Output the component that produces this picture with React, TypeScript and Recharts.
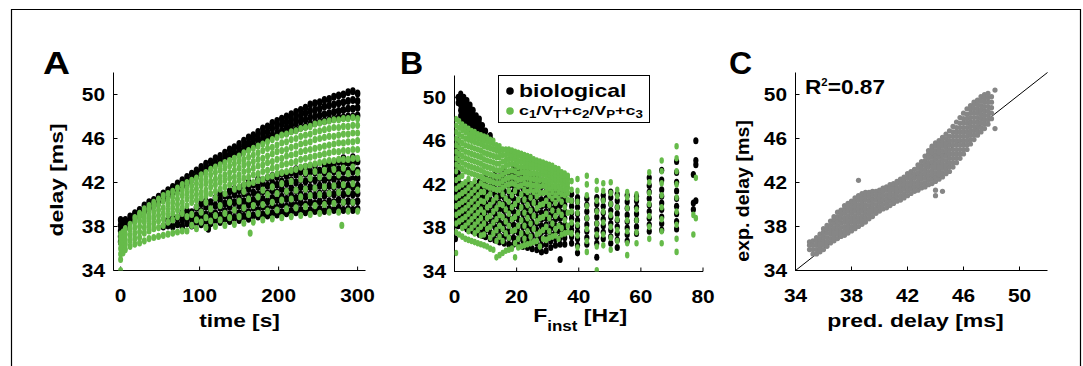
import React from "react";
import { ScatterChart, Scatter, XAxis, YAxis, ReferenceLine } from "recharts";

const FONT = '"Liberation Sans", Arial, Helvetica, sans-serif';
const GREEN = "#66bb4a";
const GRAY = "#868686";
const AXIS = { stroke: "#000", strokeWidth: 1 };

const DELAY_TICKS = [34, 38, 42, 46, 50];
const TIME_TICKS = [0, 100, 200, 300];
const FREQ_TICKS = [0, 20, 40, 60, 80];
const PRED_TICKS = [34, 38, 42, 46, 50];

// A: rows are [time s, ...delays ms]
const A_BIO = [
  [0, 36.6, 37.1, 37.6, 38.1, 38.6], [3, 37.0, 37.5, 38.0, 38.4], [6, 37.9, 38.3, 38.6],
  [12, 38.5, 38.9], [18, 38.8, 39.2], [24, 39.1, 39.5], [30, 39.4, 39.9], [36, 39.7, 40.2],
  [42, 39.9, 40.4], [48, 40.2, 40.7], [54, 38.0, 40.5, 41.0], [60, 38.1, 38.6, 40.8, 41.3],
  [66, 38.0, 38.7, 41.1, 41.6], [72, 38.2, 38.8, 41.4, 41.9], [78, 38.0, 38.6, 39.2, 41.7, 42.2],
  [84, 38.3, 38.9, 39.4, 42.0, 42.5], [90, 38.1, 38.7, 39.3, 42.3, 42.8], [96, 38.4, 39.0, 39.7, 42.6, 43.1],
  [102, 38.2, 38.8, 39.4, 40.1, 42.9, 43.4], [108, 38.5, 39.1, 39.8, 40.3, 43.2, 43.7],
  [111, 37.8], [114, 38.3, 38.9, 39.5, 40.2, 43.4, 43.9], [120, 38.6, 39.2, 39.9, 40.6, 43.7, 44.2],
  [126, 38.4, 39.0, 39.7, 40.4, 41.0, 43.9, 44.4], [132, 38.7, 39.4, 40.1, 40.8, 44.2, 44.7],
  [138, 38.5, 39.1, 39.8, 40.5, 41.2, 44.5, 45.0], [144, 38.8, 39.5, 40.2, 40.9, 41.4, 44.7, 45.2],
  [150, 38.6, 39.2, 39.9, 40.6, 41.3, 44.6, 45.0, 45.5], [156, 38.9, 39.6, 40.3, 41.0, 41.7, 44.9, 45.3, 45.8],
  [162, 38.7, 39.3, 40.0, 40.7, 41.4, 42.0, 45.2, 45.6, 46.1], [168, 39.0, 39.7, 40.4, 41.1, 41.8, 45.4, 45.9, 46.3],
  [174, 38.9, 39.5, 40.2, 40.9, 41.6, 42.3, 45.7, 46.1, 46.6], [180, 39.1, 39.8, 40.5, 41.2, 41.9, 45.9, 46.4, 46.9],
  [186, 39.0, 39.6, 40.3, 41.0, 41.7, 42.4, 46.1, 46.6, 47.1], [192, 39.2, 39.9, 40.6, 41.3, 42.0, 42.6, 46.3, 46.9, 47.4],
  [198, 39.1, 39.7, 40.4, 41.1, 41.8, 42.5, 46.5, 47.1, 47.6], [204, 39.3, 40.0, 40.7, 41.4, 42.1, 42.8, 46.7, 47.3, 47.8],
  [210, 39.2, 39.8, 40.5, 41.2, 41.9, 42.6, 46.5, 47.0, 47.5, 48.0], [216, 39.4, 40.1, 40.8, 41.5, 42.2, 42.9, 46.7, 47.2, 47.7, 48.2],
  [222, 39.3, 39.9, 40.6, 41.3, 42.0, 42.7, 43.2, 46.8, 47.4, 47.9, 48.4], [228, 39.5, 40.2, 40.9, 41.6, 42.3, 43.0, 47.0, 47.6, 48.1, 48.6],
  [234, 39.3, 40.0, 40.7, 41.4, 42.1, 42.8, 43.4, 47.1, 47.7, 48.3, 48.8], [240, 39.5, 40.2, 40.9, 41.6, 42.3, 43.0, 47.3, 47.9, 48.5, 49.1],
  [246, 39.4, 40.1, 40.8, 41.5, 42.2, 42.9, 43.5, 47.4, 48.0, 48.6, 49.2], [252, 39.6, 40.3, 41.0, 41.7, 42.4, 43.1, 47.5, 48.1, 48.7, 49.3],
  [258, 39.4, 40.1, 40.8, 41.5, 42.2, 42.9, 43.6, 47.6, 48.2, 48.9, 49.5], [264, 39.6, 40.3, 41.0, 41.7, 42.4, 43.1, 43.7, 47.7, 48.3, 49.0, 49.6],
  [270, 39.5, 40.2, 40.9, 41.6, 42.3, 43.0, 43.6, 47.8, 48.4, 49.1, 49.8], [276, 39.7, 40.4, 41.1, 41.8, 42.5, 43.2, 43.9, 47.9, 48.5, 49.2, 49.9],
  [282, 39.5, 40.2, 40.9, 41.6, 42.3, 43.0, 43.7, 44.2, 47.9, 48.6, 49.3, 50.0], [288, 39.6, 40.3, 41.0, 41.7, 42.4, 43.1, 43.8, 48.0, 48.7, 49.4, 50.2],
  [294, 39.5, 40.2, 40.9, 41.6, 42.3, 43.0, 43.7, 44.3, 48.0, 48.7, 49.5, 50.3], [300, 39.6, 40.3, 41.0, 41.7, 42.4, 43.1, 43.9, 48.1, 48.8, 49.4, 50.1],
];
const A_FIT = [
  [0, 34.0, 35.0, 35.5, 36.0, 36.5, 36.9, 37.3], [3, 35.6, 36.1, 36.6, 37.0, 37.5], [6, 35.9, 36.4, 36.8, 37.3, 37.8],
  [12, 36.2, 36.7, 37.2, 37.7, 38.2], [18, 36.4, 36.9, 37.4, 37.9, 38.4, 38.8], [24, 36.5, 37.0, 37.5, 38.0, 38.5, 38.9, 39.2],
  [30, 36.7, 37.4, 37.9, 38.4, 38.8, 39.2, 39.6], [36, 36.9, 37.6, 38.1, 38.6, 39.0, 39.5, 39.9],
  [42, 37.0, 37.8, 38.3, 38.8, 39.3, 39.8, 40.2], [48, 37.1, 37.9, 38.5, 39.0, 39.5, 40.0, 40.5],
  [54, 37.2, 38.1, 38.7, 39.2, 39.7, 40.3, 40.8], [60, 37.3, 38.4, 39.0, 39.5, 40.0, 40.5, 41.0],
  [66, 37.4, 38.6, 39.2, 39.7, 40.2, 40.7, 41.2], [72, 37.5, 38.9, 39.5, 40.0, 40.5, 41.0, 41.5],
  [78, 37.6, 39.2, 39.7, 40.2, 40.8, 41.3, 41.8], [84, 37.6, 38.9, 39.9, 40.5, 41.0, 41.5, 42.0],
  [90, 38.1, 39.1, 40.2, 40.7, 41.2, 41.7, 42.2], [96, 37.8, 38.6, 39.8, 40.4, 40.9, 41.4, 41.9, 42.4],
  [102, 38.4, 39.3, 40.6, 41.1, 41.7, 42.2, 42.7], [108, 37.9, 38.8, 40.2, 40.8, 41.3, 41.9, 42.4, 42.9],
  [114, 38.5, 39.6, 41.0, 41.6, 42.1, 42.7, 43.2], [120, 38.0, 39.0, 40.6, 41.2, 41.8, 42.3, 42.9, 43.4],
  [126, 38.6, 39.9, 41.4, 42.0, 42.5, 43.1, 43.6], [132, 38.1, 39.2, 41.0, 41.6, 42.2, 42.7, 43.3, 43.8],
  [138, 38.8, 40.2, 41.8, 42.4, 42.9, 43.5, 44.0], [144, 38.2, 39.5, 41.4, 42.0, 42.5, 43.1, 43.7, 44.2],
  [150, 38.9, 40.3, 41.6, 42.2, 42.7, 43.3, 43.9, 44.4], [156, 38.3, 39.7, 41.2, 41.8, 42.4, 43.0, 43.6, 44.1, 44.7],
  [162, 39.1, 40.5, 41.9, 42.5, 43.1, 43.7, 44.3, 44.9], [164, 37.4],
  [168, 38.4, 39.9, 42.0, 42.7, 43.3, 43.9, 44.5, 45.1], [174, 39.2, 40.7, 42.2, 42.8, 43.5, 44.1, 44.7, 45.3],
  [180, 38.6, 40.0, 41.3, 42.3, 43.0, 43.6, 44.2, 44.9, 45.5], [186, 39.4, 40.9, 42.5, 43.1, 43.8, 44.4, 45.1, 45.7],
  [192, 38.7, 40.2, 41.6, 42.6, 43.3, 43.9, 44.6, 45.2, 45.9], [198, 39.5, 41.0, 42.8, 43.4, 44.1, 44.8, 45.4, 46.1],
  [204, 38.8, 40.4, 41.9, 42.9, 43.6, 44.2, 44.9, 45.6, 46.3], [210, 39.6, 41.2, 43.0, 43.7, 44.4, 45.0, 45.7, 46.4],
  [216, 38.9, 40.5, 42.1, 43.1, 43.8, 44.5, 45.2, 45.9, 46.6], [222, 39.7, 41.3, 43.2, 43.9, 44.6, 45.3, 46.0, 46.7],
  [228, 39.0, 40.7, 42.3, 43.4, 44.1, 44.8, 45.5, 46.2, 46.9], [234, 39.8, 41.4, 42.9, 43.5, 44.2, 44.9, 45.6, 46.3, 47.0],
  [240, 39.1, 40.8, 42.4, 43.6, 44.3, 45.0, 45.7, 46.4, 47.1], [246, 39.9, 41.5, 43.0, 43.7, 44.4, 45.1, 45.9, 46.6, 47.3],
  [252, 39.2, 40.9, 42.5, 43.8, 44.5, 45.2, 46.0, 46.7, 47.4], [258, 40.0, 41.6, 43.1, 43.9, 44.6, 45.3, 46.1, 46.8, 47.5],
  [264, 39.3, 41.0, 42.6, 44.0, 44.7, 45.4, 46.2, 46.9, 47.6], [270, 40.1, 41.7, 43.2, 44.0, 44.8, 45.5, 46.2, 47.0, 47.7],
  [276, 39.3, 41.1, 42.7, 44.1, 44.8, 45.6, 46.3, 47.0, 47.7], [280, 38.1],
  [282, 40.2, 41.8, 43.3, 44.1, 44.9, 45.6, 46.4, 47.1, 47.8], [288, 39.4, 41.2, 42.8, 44.1, 44.9, 45.7, 46.4, 47.1, 47.8],
  [294, 40.2, 41.9, 43.4, 44.2, 45.0, 45.7, 46.5, 47.2, 47.9], [300, 39.4, 41.3, 42.9, 44.2, 45.0, 45.8, 46.5, 47.2, 47.8],
];

// B: rows are [F_inst Hz, ...delays ms]
const B_BIO = [
  [0.3, 37.0, 38.3, 38.9, 39.5, 40.1, 40.7, 41.3, 41.9, 42.5, 43.1, 43.7, 44.3, 44.9, 45.5],
  [1.2, 38.2, 38.8, 39.4, 40.0, 40.6, 41.2, 41.8, 42.4, 43.0, 43.6, 44.2, 44.8, 45.4, 46.0, 49.5, 50.0],
  [2.0, 38.4, 39.0, 39.6, 40.2, 40.8, 41.4, 42.0, 47.8, 48.3, 48.8, 49.3, 49.8, 50.3],
  [3.0, 38.1, 38.7, 39.3, 39.9, 40.5, 41.1, 41.7, 47.5, 48.0, 48.5, 49.0, 49.5, 50.0],
  [4.0, 37.9, 38.5, 39.1, 39.7, 40.3, 40.9, 41.5, 42.1, 47.3, 47.8, 48.3, 48.8, 49.3, 49.7],
  [5.0, 37.8, 38.4, 39.0, 39.6, 40.2, 40.8, 41.4, 42.0, 47.0, 47.5, 48.0, 48.5, 49.0, 49.3],
  [6.0, 37.7, 38.3, 38.9, 39.5, 40.1, 40.7, 41.3, 41.9, 46.9, 47.4, 47.9, 48.4, 48.8],
  [7.0, 37.6, 38.2, 38.8, 39.4, 40.0, 40.6, 41.2, 41.8, 46.8, 47.3, 47.8, 48.3],
  [8.0, 37.4, 38.0, 38.6, 39.2, 39.8, 40.4, 41.0, 41.6, 42.2, 46.6, 47.1, 47.6, 48.0],
  [9.0, 37.3, 37.9, 38.5, 39.1, 39.7, 40.3, 40.9, 41.5, 42.1, 46.5, 47.0, 47.4],
  [10.0, 37.2, 37.8, 38.4, 39.0, 39.6, 40.2, 40.8, 41.4, 42.0, 42.6, 46.4, 46.9],
  [11.5, 37.0, 37.6, 38.2, 38.8, 39.4, 40.0, 40.6, 41.2, 41.8, 42.4, 46.2, 46.5],
  [13.0, 36.9, 37.5, 38.1, 38.7, 39.3, 39.9, 40.5, 41.1, 41.7, 42.3, 42.9],
  [14.5, 36.7, 37.3, 37.9, 38.5, 39.1, 39.7, 40.3, 40.9, 41.5, 42.1, 42.7],
  [16.0, 36.6, 37.2, 37.8, 38.4, 39.0, 39.6, 40.2, 40.8, 41.4, 42.0, 42.6, 43.2],
  [17.5, 36.5, 37.1, 37.7, 38.3, 38.9, 39.5, 40.1, 40.7, 41.3, 41.9, 42.5, 43.1],
  [19.0, 36.5, 37.1, 37.7, 38.3, 38.9, 39.5, 40.1, 40.7, 41.3, 41.9, 42.5, 43.1, 43.6],
  [20.5, 36.4, 37.0, 37.6, 38.2, 38.8, 39.4, 40.0, 40.6, 41.2, 41.8, 42.4, 43.0, 43.5],
  [22.0, 36.3, 36.9, 37.5, 38.1, 38.7, 39.3, 39.9, 40.5, 41.1, 41.7, 42.3, 42.9, 43.4],
  [23.5, 36.2, 36.8, 37.4, 38.0, 38.6, 39.2, 39.8, 40.4, 41.0, 41.6, 42.2, 42.8, 43.2],
  [25.0, 36.1, 36.7, 37.3, 37.9, 38.5, 39.1, 39.7, 40.3, 40.9, 41.5, 42.1, 42.6, 42.9],
  [26.5, 36.0, 36.6, 37.2, 37.8, 38.4, 39.0, 39.6, 40.2, 40.8, 41.4, 42.0, 42.6],
  [28.0, 35.8, 36.4, 37.0, 37.6, 38.2, 38.8, 39.4, 40.0, 40.6, 41.2, 41.8, 42.3],
  [29.5, 35.9, 36.5, 37.1, 37.7, 38.3, 38.9, 39.5, 40.1, 40.7, 41.3, 41.9],
  [31.0, 36.2, 36.8, 37.4, 38.0, 38.6, 39.2, 39.8, 40.4, 41.0, 41.6],
  [32.5, 36.4, 37.0, 37.6, 38.2, 38.8, 39.4, 40.0, 40.6, 41.2, 41.5],
  [34.0, 35.1, 36.5, 37.1, 37.7, 38.3, 38.9, 39.5, 40.1, 40.7, 41.2],
  [35.5, 36.5, 37.1, 37.7, 38.3, 38.9, 39.5, 40.1, 40.7, 41.0],
  [37.7, 36.6, 37.2, 37.8, 38.3, 38.9, 39.4, 40.0, 40.5, 41.1],
  [39.6, 35.7, 36.4, 37.0, 37.6, 38.1, 38.7, 39.3, 39.9, 40.4, 40.8],
  [42.6, 36.5, 37.1, 37.7, 38.3, 38.9, 39.5, 40.1, 40.7],
  [45.8, 35.3, 36.6, 37.2, 37.8, 38.4, 39.0, 39.6, 40.2, 40.8],
  [47.9, 37.0, 37.6, 38.2, 38.8, 39.4, 40.0, 40.6, 41.0],
  [50.3, 36.6, 37.2, 37.8, 38.4, 39.0, 39.6, 40.2, 40.8, 41.3],
  [52.4, 36.2, 36.9, 37.5, 38.1, 38.7, 39.3, 39.9, 40.5, 41.1],
  [55.6, 36.8, 37.4, 38.0, 38.6, 39.2, 39.8, 40.4, 41.0],
  [58.6, 37.5, 38.1, 38.7, 39.3, 39.9, 40.5, 40.9],
  [62.7, 37.7, 38.3, 38.9, 39.5, 40.1, 40.7, 41.3, 41.9, 42.6],
  [66.7, 37.8, 38.4, 39.0, 39.7, 40.3, 40.9, 41.5, 42.4, 43.3],
  [71.5, 37.9, 38.6, 39.3, 40.0, 40.7, 41.4, 42.2, 43.1, 44.1],
  [76.9, 39.7, 40.3, 42.9],
  [77.7, 40.5, 43.8, 44.2, 46.0],
];
const B_FIT = [
  [0.5, 35.7, 37.6, 38.4, 39.2, 40.0, 40.8, 41.6, 42.4, 43.2, 43.8, 44.4, 45.0, 45.6, 46.2, 46.8, 47.4, 48.0],
  [1.5, 37.4, 38.6, 39.4, 40.2, 41.0, 41.8, 42.6, 43.6, 44.2, 44.8, 45.4, 46.0, 46.6, 47.2, 47.8],
  [2.5, 37.2, 38.0, 38.8, 39.6, 40.4, 41.2, 42.0, 42.8, 43.4, 44.0, 44.6, 45.2, 45.8, 46.4, 47.0, 47.5],
  [3.5, 37.0, 38.2, 39.0, 39.8, 40.6, 41.4, 42.2, 43.2, 43.8, 44.4, 45.0, 45.6, 46.2, 46.8, 47.3],
  [4.5, 36.9, 37.7, 38.5, 39.3, 40.1, 40.9, 41.7, 42.5, 43.1, 43.7, 44.3, 44.9, 45.5, 46.1, 46.6, 47.1],
  [5.5, 36.8, 38.0, 38.8, 39.6, 40.4, 41.2, 42.0, 43.0, 43.6, 44.2, 44.8, 45.4, 46.0, 46.5, 46.9],
  [6.5, 36.7, 37.5, 38.3, 39.1, 39.9, 40.7, 41.5, 42.3, 42.9, 43.5, 44.1, 44.7, 45.3, 45.9, 46.4, 46.8],
  [7.5, 36.6, 37.8, 38.6, 39.4, 40.2, 41.0, 41.8, 42.8, 43.4, 44.0, 44.6, 45.2, 45.8, 46.3, 46.6],
  [8.5, 36.5, 37.3, 38.1, 38.9, 39.7, 40.5, 41.3, 42.1, 42.7, 43.3, 43.9, 44.5, 45.1, 45.7, 46.2, 46.5],
  [9.5, 36.4, 37.4, 38.4, 39.4, 40.4, 41.3, 41.9, 42.5, 43.1, 43.7, 44.3, 44.9, 45.5, 46.0, 46.4],
  [10.5, 36.3, 37.9, 38.9, 39.9, 40.8, 41.8, 42.4, 43.0, 43.6, 44.2, 44.8, 45.4, 45.9, 46.3],
  [11.5, 36.1, 37.1, 38.1, 39.1, 40.1, 41.1, 41.7, 42.3, 42.9, 43.5, 44.1, 44.7, 45.3, 45.8, 46.1],
  [12.5, 36.0, 37.5, 38.5, 39.5, 40.5, 41.6, 42.2, 42.8, 43.4, 44.0, 44.6, 45.2, 45.7, 46.0],
  [13.5, 35.3, 36.8, 37.8, 38.8, 39.8, 40.8, 41.5, 42.1, 42.7, 43.3, 43.9, 44.5, 45.1, 45.6],
  [14.5, 35.5, 37.2, 38.2, 39.2, 40.2, 41.5, 42.1, 42.7, 43.3, 43.9, 44.5, 45.0, 45.5],
  [15.5, 35.7, 36.8, 37.9, 39.0, 40.1, 41.1, 41.7, 42.3, 42.9, 43.5, 44.1, 44.7, 45.2],
  [16.5, 35.9, 37.5, 38.6, 39.7, 40.7, 41.9, 42.5, 43.1, 43.7, 44.2, 44.7, 45.2],
  [17.5, 36.0, 37.1, 38.2, 39.3, 40.4, 41.4, 42.0, 42.6, 43.2, 43.8, 44.3, 44.8, 45.2],
  [18.5, 36.1, 37.7, 38.8, 39.9, 41.0, 42.1, 42.7, 43.3, 43.9, 44.4, 44.8, 45.1],
  [19.5, 35.3, 36.6, 37.8, 39.0, 40.2, 41.4, 42.0, 42.6, 43.2, 43.8, 44.3, 44.7, 45.0],
  [20.5, 36.2, 37.0, 38.2, 39.4, 40.6, 41.8, 42.4, 43.0, 43.6, 44.1, 44.6, 44.9],
  [21.5, 36.3, 37.5, 38.7, 39.9, 41.1, 41.9, 42.5, 43.1, 43.6, 44.1, 44.5, 44.8],
  [22.5, 36.4, 37.0, 38.2, 39.4, 40.6, 41.5, 42.1, 42.6, 43.1, 43.6, 44.0, 44.4, 44.7],
  [23.5, 36.5, 37.7, 38.9, 40.1, 41.3, 42.0, 42.6, 43.1, 43.6, 44.0, 44.4, 44.6],
  [24.5, 36.6, 37.2, 38.4, 39.6, 40.8, 41.5, 42.0, 42.5, 43.0, 43.5, 43.9, 44.3, 44.5],
  [25.5, 36.7, 37.9, 39.1, 40.3, 41.3, 41.9, 42.5, 43.0, 43.5, 43.9, 44.3],
  [26.5, 36.8, 37.4, 38.6, 39.8, 40.9, 41.5, 42.0, 42.5, 43.0, 43.5, 43.9, 44.2],
  [27.5, 36.3, 37.6, 38.9, 40.1, 41.2, 41.8, 42.4, 42.9, 43.4, 43.8, 44.1],
  [28.5, 37.0, 37.8, 39.0, 40.2, 41.2, 41.9, 42.4, 42.9, 43.3, 43.7, 44.0],
  [29.5, 36.9, 38.1, 39.3, 40.5, 41.3, 41.8, 42.3, 42.8, 43.2, 43.6, 43.9],
  [30.5, 37.1, 37.7, 38.9, 40.1, 41.0, 41.6, 42.1, 42.5, 42.9, 43.2, 43.5, 43.8],
  [31.5, 37.2, 38.4, 39.6, 40.7, 41.3, 41.8, 42.3, 42.7, 43.1, 43.4, 43.7],
  [32.5, 37.3, 37.9, 39.1, 40.3, 41.0, 41.6, 42.1, 42.5, 42.9, 43.2, 43.5],
  [33.5, 37.0, 38.2, 39.5, 40.7, 41.3, 41.8, 42.3, 42.7, 43.1, 43.4],
  [34.5, 37.4, 38.0, 39.2, 40.4, 41.1, 41.6, 42.1, 42.5, 42.8, 43.1],
  [35.5, 37.5, 38.7, 39.9, 41.0, 41.5, 42.0, 42.4, 42.8, 43.0],
  [36.5, 37.6, 38.2, 39.4, 40.6, 41.2, 41.7, 42.1, 42.5, 42.8],
  [37.7, 37.5, 38.5, 39.5, 40.5, 41.5, 42.3],
  [39.6, 36.2, 37.3, 38.3, 39.4, 40.4, 41.4, 42.5],
  [42.6, 35.8, 36.8, 37.9, 38.9, 40.0, 41.0, 42.0, 42.8],
  [45.8, 34.1, 36.3, 37.4, 38.4, 39.5, 40.5, 41.5, 42.3],
  [47.9, 36.4, 37.4, 38.5, 39.5, 40.5, 41.4, 42.1],
  [50.3, 36.0, 37.1, 38.1, 39.2, 40.2, 41.2, 42.2],
  [52.4, 36.8, 37.8, 38.8, 39.9, 40.9, 41.5],
  [55.6, 35.5, 36.6, 37.7, 38.7, 39.8, 40.8, 41.3],
  [58.6, 36.6, 37.6, 38.7, 39.7, 40.7, 41.1],
  [62.7, 37.0, 38.1, 39.1, 40.2, 41.2, 42.2, 43.1],
  [66.7, 36.6, 37.7, 38.8, 39.9, 41.0, 42.1, 43.2, 44.2],
  [71.5, 35.8, 37.0, 38.3, 39.5, 40.8, 42.0, 43.2, 44.4, 45.5],
  [76.9, 37.4, 39.2],
  [77.7, 38.9, 42.6],
];

// C: rows are [predicted delay, ...experimental delays] (ms)
const C_PRED = [
  [35.0, 35.9, 36.3, 36.6], [35.25, 35.5, 35.9, 36.3, 36.7], [35.5, 35.5, 35.9, 36.3, 36.7, 37.0],
  [35.75, 35.7, 36.1, 36.5, 36.9, 37.3], [36.0, 35.9, 36.3, 36.7, 37.1, 37.5, 37.8],
  [36.25, 36.2, 36.6, 37.0, 37.4, 37.8, 38.1], [36.5, 36.5, 36.9, 37.3, 37.7, 38.1, 38.5],
  [36.75, 36.7, 37.1, 37.5, 37.9, 38.3, 38.7, 38.9], [37.0, 36.9, 37.3, 37.7, 38.1, 38.5, 38.9, 39.3],
  [37.25, 37.1, 37.5, 37.9, 38.3, 38.7, 39.1, 39.5], [37.5, 37.2, 37.6, 38.0, 38.4, 38.8, 39.2, 39.6, 39.9],
  [37.75, 37.4, 37.8, 38.2, 38.6, 39.0, 39.4, 39.8, 40.1], [38.0, 37.6, 38.0, 38.4, 38.8, 39.2, 39.6, 40.0, 40.3],
  [38.25, 37.8, 38.2, 38.6, 39.0, 39.4, 39.8, 40.2, 40.6], [38.5, 38.0, 38.4, 38.8, 39.2, 39.6, 40.0, 40.4, 40.8, 42.2],
  [38.75, 38.2, 38.6, 39.0, 39.4, 39.8, 40.2, 40.6, 41.0], [39.0, 38.4, 38.8, 39.2, 39.6, 40.0, 40.4, 40.8, 41.1],
  [39.25, 38.7, 39.1, 39.5, 39.9, 40.3, 40.7, 41.1], [39.5, 38.9, 39.3, 39.7, 40.1, 40.5, 40.9, 41.2],
  [39.75, 39.2, 39.6, 40.0, 40.4, 40.8, 41.2], [40.0, 39.4, 39.8, 40.2, 40.6, 41.0, 41.3],
  [40.25, 39.6, 40.0, 40.4, 40.8, 41.2, 41.5], [40.5, 39.7, 40.1, 40.5, 40.9, 41.3, 41.6],
  [40.75, 39.9, 40.3, 40.7, 41.1, 41.5, 41.8], [41.0, 40.1, 40.5, 40.9, 41.3, 41.7, 41.9],
  [41.25, 40.3, 40.7, 41.1, 41.5, 41.9, 42.1], [41.5, 40.4, 40.8, 41.2, 41.6, 42.0, 42.3],
  [41.75, 40.6, 41.0, 41.4, 41.8, 42.2, 42.5], [42.0, 40.8, 41.2, 41.6, 42.0, 42.4, 42.8],
  [42.25, 41.0, 41.4, 41.8, 42.2, 42.6, 43.0], [42.5, 41.2, 41.6, 42.0, 42.4, 42.8, 43.2],
  [42.75, 41.3, 41.7, 42.1, 42.5, 42.9, 43.3, 43.6], [43.0, 41.5, 41.9, 42.3, 42.7, 43.1, 43.5, 43.9],
  [43.25, 41.6, 42.0, 42.4, 42.8, 43.2, 43.6, 44.0, 44.4], [43.5, 41.8, 42.2, 42.6, 43.0, 43.4, 43.8, 44.2, 44.6, 44.9],
  [43.75, 41.9, 42.3, 42.7, 43.1, 43.5, 43.9, 44.3, 44.7, 45.1, 45.3],
  [44.0, 40.8, 41.3, 42.1, 42.5, 42.9, 43.3, 43.7, 44.1, 44.5, 44.9, 45.3, 45.6],
  [44.25, 42.3, 42.7, 43.1, 43.5, 43.9, 44.3, 44.7, 45.1, 45.5, 45.8],
  [44.5, 41.2, 42.5, 42.9, 43.3, 43.7, 44.1, 44.5, 44.9, 45.3, 45.7, 46.1],
  [44.75, 42.8, 43.2, 43.6, 44.0, 44.4, 44.8, 45.2, 45.6, 46.0, 46.4],
  [45.0, 43.0, 43.4, 43.8, 44.2, 44.6, 45.0, 45.4, 45.8, 46.2, 46.7],
  [45.25, 43.4, 43.8, 44.2, 44.6, 45.0, 45.4, 45.8, 46.2, 46.6, 47.1],
  [45.5, 43.8, 44.2, 44.6, 45.0, 45.4, 45.8, 46.2, 46.6, 47.0, 47.5],
  [45.75, 44.2, 44.6, 45.0, 45.4, 45.8, 46.2, 46.6, 47.0, 47.4, 47.9],
  [46.0, 44.6, 45.0, 45.4, 45.8, 46.2, 46.6, 47.0, 47.4, 47.8, 48.3],
  [46.25, 45.0, 45.4, 45.8, 46.2, 46.6, 47.0, 47.4, 47.8, 48.2, 48.7],
  [46.5, 45.5, 45.9, 46.3, 46.7, 47.1, 47.5, 47.9, 48.3, 48.7, 49.0],
  [46.75, 45.9, 46.3, 46.7, 47.1, 47.5, 47.9, 48.3, 48.7, 49.1, 49.3],
  [47.0, 46.3, 46.7, 47.1, 47.5, 47.9, 48.3, 48.7, 49.1, 49.5],
  [47.25, 46.6, 47.0, 47.4, 47.8, 48.2, 48.6, 49.0, 49.4, 49.8],
  [47.5, 46.9, 47.3, 47.7, 48.1, 48.5, 48.9, 49.3, 49.7, 50.0],
  [47.75, 47.3, 47.7, 48.1, 48.5, 48.9, 49.3, 49.7, 50.1],
  [48.0, 47.8, 48.3, 48.8, 49.3, 49.8], [48.25, 46.9, 50.4],
];
const UNITY = [{ x: 34, y: 34 }, { x: 52, y: 52 }];

const toPoints = (rows: number[][]) => rows.flatMap(([x, ...ys]) => ys.map((y) => ({ x, y })));

// dense clouds: markers a bit taller than wide so neighbouring rows merge
const dot = (fill: string, rx: number, ry = rx) => (p: any) => <ellipse cx={p.cx} cy={p.cy} rx={rx} ry={ry} fill={fill} />;

const txt = { fontFamily: FONT, fontWeight: "bold" as const, fill: "#000" };

const xTick = (p: any) => {
  const s = String(p.payload.value);
  return (
    <text x={p.x} y={p.y + 31} textAnchor="middle" fontSize={18} textLength={s.length * 11.6} lengthAdjust="spacingAndGlyphs" {...txt}>
      {s}
    </text>
  );
};

const yTick = (p: any) => {
  const s = String(p.payload.value);
  return (
    <text x={p.x - 8.5} y={p.y + 6.3} textAnchor="end" fontSize={18} textLength={s.length * 11.6} lengthAdjust="spacingAndGlyphs" {...txt}>
      {s}
    </text>
  );
};

const xTitle = (label: string, len: number, dx = 0) => (p: any) => {
  const vb = p.viewBox;
  return (
    <text x={vb.x + vb.width / 2 + dx} y={vb.y + 56} textAnchor="middle" fontSize={19} textLength={len} lengthAdjust="spacingAndGlyphs" {...txt}>
      {label}
    </text>
  );
};

const freqTitle = (p: any) => {
  const vb = p.viewBox;
  return (
    <text x={vb.x + vb.width / 2 + 1.5} y={vb.y + 50.5} textAnchor="middle" fontSize={19} textLength={94} lengthAdjust="spacingAndGlyphs" {...txt}>
      F<tspan fontSize={14} dy={9}>inst</tspan><tspan dy={-9}> [Hz]</tspan>
    </text>
  );
};

const yTitle = (label: string, len: number, fromAxis: number, cy: number) => (p: any) => {
  const vb = p.viewBox;
  const x = vb.x + vb.width - fromAxis;
  return (
    <text transform={`translate(${x},${cy}) rotate(-90)`} textAnchor="middle" fontSize={19} textLength={len} lengthAdjust="spacingAndGlyphs" {...txt}>
      {label}
    </text>
  );
};

type PanelProps = {
  axisX: number; plotTop: number; plotW: number; plotH: number;
  xDomain: number[]; xTicks: number[]; xLabel: any; yLabel?: any; children: React.ReactNode;
};

function Panel({ axisX, plotTop, plotW, plotH, xDomain, xTicks, xLabel, yLabel, children }: PanelProps) {
  const YW = 100, XH = 60, RM = 16, H = 366;
  const left = Math.floor(axisX - YW);
  const ml = axisX - YW - left;
  return (
    <div style={{ position: "absolute", left, top: 0 }}>
      <ScatterChart
        width={ml + YW + plotW + RM}
        height={H}
        margin={{ top: plotTop, right: RM, bottom: H - plotTop - plotH - XH, left: ml }}
      >
        <XAxis type="number" dataKey="x" domain={xDomain} ticks={xTicks} interval={0} allowDataOverflow height={XH}
          tickSize={-4} tickMargin={4} tick={xTick} axisLine={AXIS} tickLine={AXIS} label={xLabel} />
        <YAxis type="number" dataKey="y" domain={[34, 52]} ticks={DELAY_TICKS} interval={0} allowDataOverflow width={YW}
          tickSize={-4} tickMargin={4} tick={yTick} axisLine={AXIS} tickLine={AXIS} label={yLabel} />
        {children}
      </ScatterChart>
    </div>
  );
}

export default function App() {
  return (
    <div style={{ position: "absolute", left: 0, top: 0, width: 1083, height: 366, overflow: "hidden", background: "#fff" }}>
      <Panel axisX={113.5} plotTop={72.5} plotW={252} plotH={198} xDomain={[-9, 310]} xTicks={TIME_TICKS}
        xLabel={xTitle("time [s]", 80.7)} yLabel={yTitle("delay [ms]", 113, 50.5, 180)}>
        <Scatter data={toPoints(A_BIO)} shape={dot("#000", 2.8, 4)} isAnimationActive={false} />
        <Scatter data={toPoints(A_FIT)} shape={dot(GREEN, 2.5, 3.6)} isAnimationActive={false} />
      </Panel>
      <Panel axisX={454.5} plotTop={75.5} plotW={248.5} plotH={196} xDomain={[0, 80]} xTicks={FREQ_TICKS}
        xLabel={freqTitle}>
        <Scatter data={toPoints(B_BIO)} shape={dot("#000", 2.6, 3.5)} isAnimationActive={false} />
        <Scatter data={toPoints(B_FIT)} shape={dot(GREEN, 2.2, 3.3)} isAnimationActive={false} />
      </Panel>
      <Panel axisX={795.5} plotTop={72.5} plotW={252} plotH={198} xDomain={[34, 52]} xTicks={PRED_TICKS}
        xLabel={xTitle("pred. delay [ms]", 176.6, -6)} yLabel={yTitle("exp. delay [ms]", 141.7, 47, 191)}>
        <Scatter data={toPoints(C_PRED)} shape={dot(GRAY, 2.6)} isAnimationActive={false} />
        <ReferenceLine segment={UNITY} stroke="#000" strokeWidth={1} ifOverflow="visible" />
      </Panel>
      <svg width={1083} height={366} style={{ position: "absolute", left: 0, top: 0, pointerEvents: "none" }}>
        <path d="M11.5 366V9.5H1080.5V366" fill="none" stroke="#000" strokeWidth={1.2} />
        <text x={43} y={73.5} fontSize={32} textLength={27} lengthAdjust="spacingAndGlyphs" {...txt}>A</text>
        <text x={400} y={73.5} fontSize={32} {...txt}>B</text>
        <text x={729} y={73.5} fontSize={32} {...txt}>C</text>
        <rect x={498.5} y={75.5} width={151} height={47} fill="#fff" stroke="#000" strokeWidth={1} />
        <circle cx={510} cy={91} r={3.8} fill="#000" />
        <text x={519} y={97} fontSize={19} textLength={107.5} lengthAdjust="spacingAndGlyphs" {...txt}>biological</text>
        <circle cx={510} cy={111} r={3.8} fill={GREEN} />
        <text x={519} y={115} fontSize={13.5} textLength={124} lengthAdjust="spacingAndGlyphs" {...txt}>
          c<tspan fontSize={10} dy={3}>1</tspan><tspan dy={-3}>/V</tspan><tspan fontSize={10} dy={3}>T</tspan>
          <tspan dy={-3}>+c</tspan><tspan fontSize={10} dy={3}>2</tspan><tspan dy={-3}>/V</tspan>
          <tspan fontSize={10} dy={3}>P</tspan><tspan dy={-3}>+c</tspan><tspan fontSize={10} dy={3}>3</tspan>
        </text>
        <text x={805} y={93.5} fontSize={20} textLength={80} lengthAdjust="spacingAndGlyphs" {...txt}>
          R<tspan fontSize={10} dy={-8}>2</tspan><tspan dy={8}>=0.87</tspan>
        </text>
      </svg>
    </div>
  );
}
